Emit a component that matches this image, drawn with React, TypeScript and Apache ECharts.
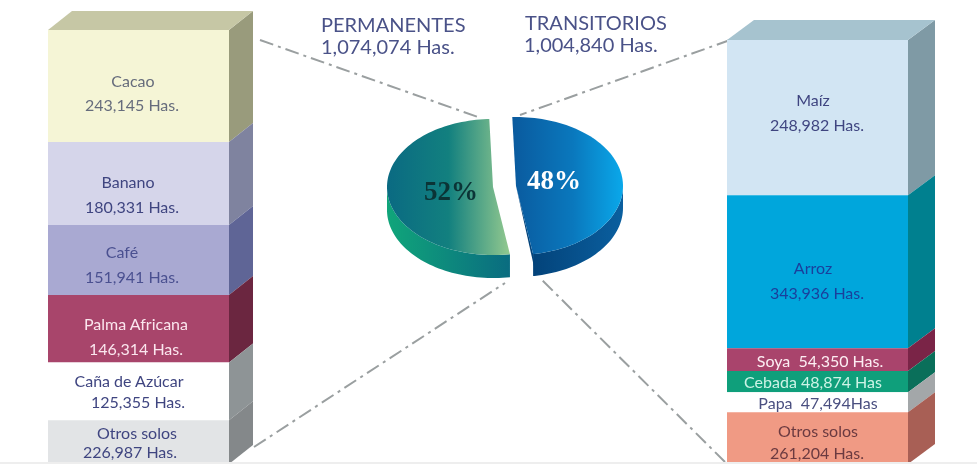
import React, { useEffect, useRef } from "react";
import * as echarts from "echarts";

// ---------- data ----------
const leftCrops = ["Cacao", "Banano", "Café", "Palma Africana", "Caña de Azúcar", "Otros solos"];
const leftHectares = [243145, 180331, 151941, 146314, 125355, 226987];
const leftValueLabels = ["243,145 Has.", "180,331 Has.", "151,941 Has.", "146,314 Has.", "125,355 Has.", "226,987 Has."];

const rightCrops = ["Maíz", "Arroz", "Soya  54,350 Has.", "Cebada 48,874 Has", "Papa  47,494Has", "Otros solos"];
const rightValueLabels = ["248,982 Has.", "343,936 Has.", "", "", "", "261,204 Has."];
// The right column is not drawn to its printed figures (Maíz is as tall as Arroz): extents as drawn.
const rightDrawnHectares = [353000, 348000, 51500, 48400, 45400, 261204];

const pieNames = ["TRANSITORIOS", "PERMANENTES"];
const pieShares = [48, 52];
const pieLabels = ["48%", "52%"];
const headerTotals = ["1,004,840 Has.", "1,074,074 Has."];

// ---------- styles and layout ----------
const FONT = "Lato";
const LABEL_SIZE = 16;
const leftFront = ["#f5f5d6", "#d5d5ea", "#a9a9d2", "#a8456b", "#ffffff", "#e2e4e6"];
const leftSide = ["#999b7c", "#7f839f", "#5f6596", "#6b2640", "#8e9496", "#84888a"];
const leftText = ["#666c7c", "#3f4580", "#4a5090", "#fbe6ee", "#3f4580", "#3f4580"];
const rightFront = ["#d2e5f3", "#00a6dc", "#a9446c", "#0f9f7b", "#ffffff", "#f09a84"];
const rightSide = ["#7f9aa5", "#00808f", "#7a2447", "#0a6f5a", "#a3a7a9", "#a85f55"];
const rightText = ["#3f4580", "#1a3f9c", "#fdeef3", "#cdf3e6", "#4a4f80", "#6b3a40"];
// [x1, y1, x2, y2] centres of the two text lines
const leftTextPos = [
  [133, 80, 132, 104], [128, 181, 132, 206], [122, 251, 132, 276],
  [136, 323, 136, 348], [129, 380, 138, 401], [137, 432, 130, 451],
];
const rightTextPos = [
  [813, 99, 817, 124], [813, 267, 817, 292], [820, 360, 0, 0],
  [813, 381, 0, 0], [818, 402, 0, 0], [818, 430, 817, 452],
];

function column(front: string[], side: string[], text: string[], pos: number[][],
  names: string[], values: string[], dx: number, dy: number, topColor: string) {
  return (params: any, api: any) => {
    const i = params.dataIndex;
    const w = api.size([1, 0])[0];
    const cx = api.coord([0, 0])[0];
    const x0 = cx - w / 2;
    const x1 = cx + w / 2;
    const yA = api.coord([0, api.value(1)])[1];
    const yB = api.coord([0, api.value(2)])[1];
    const children: any[] = [
      { type: "rect", shape: { x: x0, y: yA, width: w, height: yB - yA }, style: { fill: front[i] } },
      { type: "polygon", shape: { points: [[x1, yA], [x1 + dx, yA - dy], [x1 + dx, yB - dy], [x1, yB]] }, style: { fill: side[i] } },
    ];
    if (i === 0) {
      children.push({ type: "polygon", shape: { points: [[x0, yA], [x0 + dx, yA - dy], [x1 + dx, yA - dy], [x1, yA]] }, style: { fill: topColor } });
    }
    const p = pos[i];
    const font = `${LABEL_SIZE}px ${FONT}`;
    children.push({ type: "text", style: { x: p[0], y: p[1], text: names[i], fill: text[i], font, align: "center", verticalAlign: "middle" } });
    if (values[i]) {
      children.push({ type: "text", style: { x: p[2], y: p[3], text: values[i], fill: text[i], font, align: "center", verticalAlign: "middle" } });
    }
    return { type: "group", children };
  };
}

function stack(values: number[], limit: number) {
  let acc = 0;
  return values.map((v, i) => {
    const s = acc;
    acc += v;
    return [0, Math.min(s, limit), Math.min(acc, limit), i];
  });
}

// Tilted-pie geometry
const pieGeom = [
  { cx: 516, cy: 186, rx: 107, ry: 69, depth: 22 },
  { cx: 493, cy: 187, rx: 106, ry: 68, depth: 23 },
];
const pieStartDeg = -2;
const pieTop = [
  [{ offset: 0, color: "#0a5a9e" }, { offset: 0.55, color: "#0a78bd" }, { offset: 1, color: "#0aa8ea" }],
  [{ offset: 0, color: "#0a6a82" }, { offset: 0.5, color: "#12807f" }, { offset: 1, color: "#93c98f" }],
];
const pieSide = [
  [{ offset: 0, color: "#03437a" }, { offset: 1, color: "#0a5f9f" }],
  [{ offset: 0, color: "#10a57a" }, { offset: 1, color: "#0a6c80" }],
];
const pieTextPos = [[554, 180], [451, 191]];
const pieTextColor = ["#ffffff", "#0b3436"];

function renderPie(params: any) {
  const i = params.dataIndex;
  const total = pieShares.reduce((a, b) => a + b, 0);
  const before = pieShares.slice(0, i).reduce((a, b) => a + b, 0);
  const a0 = pieStartDeg + (before / total) * 360;
  const a1 = a0 + (pieShares[i] / total) * 360;
  const g = pieGeom[i];
  const pt = (deg: number, off = 0) => {
    const r = (deg * Math.PI) / 180;
    return [g.cx + g.rx * Math.sin(r), g.cy - g.ry * Math.cos(r) + off];
  };
  const top: number[][] = [[g.cx, g.cy]];
  for (let d = a0; d <= a1; d += 2) top.push(pt(d));
  top.push(pt(a1));
  const sA = Math.max(a0, 90);
  const sB = Math.min(a1, 270);
  const arc: number[][] = [];
  for (let d = sA; d <= sB; d += 2) arc.push(pt(d));
  arc.push(pt(sB));
  const low = arc.map((q) => [q[0], q[1] + g.depth]).reverse();
  const children: any[] = [
    { type: "polygon", shape: { points: [...arc, ...low] }, style: { fill: new echarts.graphic.LinearGradient(0, 0, 1, 0, pieSide[i]) } },
  ];
  if (i === 0) {
    // the visible cut face of the right-hand piece
    const e = pt(a1);
    children.push({ type: "polygon", shape: { points: [[g.cx, g.cy], e, [e[0] + 3, e[1] + g.depth]] }, style: { fill: "#03437a" } });
  }
  children.push(
    { type: "polygon", shape: { points: top }, style: { fill: new echarts.graphic.LinearGradient(0, 0, 1, 0, pieTop[i]) } },
    { type: "text", style: { x: pieTextPos[i][0], y: pieTextPos[i][1], text: pieLabels[i], fill: pieTextColor[i], font: "bold 27px 'Liberation Serif'", align: "center", verticalAlign: "middle" } },
  );
  return { type: "group", children };
}

const guideLines = [
  [260, 40, 478, 117],
  [730, 40, 520, 115],
  [254, 447, 505, 283],
  [725, 462, 542, 280],
];

const LEFT_MAX = 942000;
const RIGHT_MAX = 964000;

export default function App() {
  const ref = useRef<HTMLDivElement>(null);
  useEffect(() => {
    document.body.style.margin = "0";
    document.body.style.background = "#ffffff";
    const chart = echarts.init(ref.current!, undefined, { renderer: "svg" });
    const hiddenY = (gridIndex: number, max: number) => ({
      type: "value", gridIndex, inverse: true, min: 0, max,
      axisLine: { show: false }, axisTick: { show: false }, axisLabel: { show: false }, splitLine: { show: false },
    });
    const hiddenX = (gridIndex: number, name: string) => ({
      type: "category", gridIndex, data: [name],
      axisLine: { show: false }, axisTick: { show: false }, axisLabel: { show: false }, splitLine: { show: false },
    });
    const header = (text: string, x: number, y: number) => ({
      type: "text", x, y, z: 5,
      style: { text, fill: "#4a5288", font: `20px ${FONT}`, align: "left", verticalAlign: "middle" },
    });
    chart.setOption({
      animation: false,
      backgroundColor: "#ffffff",
      grid: [
        { left: 48, top: 30, width: 181, height: 434 },
        { left: 727, top: 40, width: 181, height: 424 },
      ],
      xAxis: [hiddenX(0, pieNames[1]), hiddenX(1, pieNames[0])],
      yAxis: [hiddenY(0, LEFT_MAX), hiddenY(1, RIGHT_MAX)],
      graphic: {
        elements: [
          ...guideLines.map((l) => ({
            type: "line", z: 0,
            shape: { x1: l[0], y1: l[1], x2: l[2], y2: l[3] },
            style: { stroke: "#9a9fa0", lineWidth: 2, lineDash: [14, 5, 3, 5] },
          })),
          header(pieNames[1], 321, 24),
          header(headerTotals[1], 321, 46),
          header(pieNames[0], 525, 22),
          header(headerTotals[0], 524, 44),
          { type: "rect", z: 100, shape: { x: 0, y: 462, width: 977, height: 2 }, style: { fill: "#eeeeee" } },
        ],
      },
      series: [
        {
          type: "custom", xAxisIndex: 0, yAxisIndex: 0, z: 2, clip: false,
          encode: { x: 0, y: [1, 2] },
          data: stack(leftHectares, LEFT_MAX),
          renderItem: column(leftFront, leftSide, leftText, leftTextPos, leftCrops, leftValueLabels, 24, 19, "#c6c7a5"),
        },
        {
          type: "custom", xAxisIndex: 1, yAxisIndex: 1, z: 2, clip: false,
          encode: { x: 0, y: [1, 2] },
          data: stack(rightDrawnHectares, RIGHT_MAX),
          renderItem: column(rightFront, rightSide, rightText, rightTextPos, rightCrops, rightValueLabels, 27, 20, "#a6c3cf"),
        },
        {
          type: "custom", coordinateSystem: "none", z: 3,
          data: pieShares.map((v, i) => [i, v]),
          renderItem: renderPie,
        },
      ],
    });
    return () => chart.dispose();
  }, []);
  return <div ref={ref} style={{ position: "fixed", left: 0, top: 0, width: 977, height: 464, filter: "blur(0.5px)" }} />;
}
